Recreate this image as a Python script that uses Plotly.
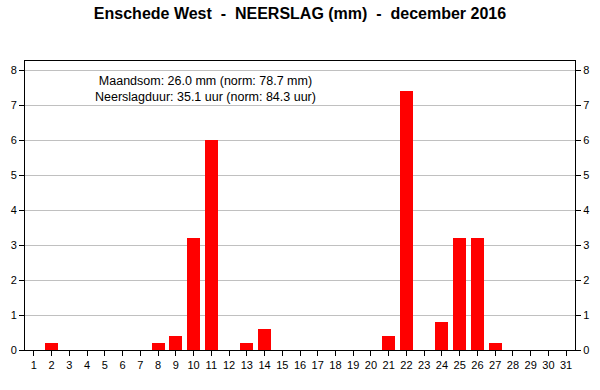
import plotly.graph_objects as go

days = list(range(1, 32))
rain = [0, 0.2, 0, 0, 0, 0, 0, 0.2, 0.4, 3.2, 6.0, 0, 0.2, 0.6, 0, 0, 0, 0, 0, 0,
        0.4, 7.4, 0, 0.8, 3.2, 3.2, 0.2, 0, 0, 0, 0]
yticks = list(range(0, 9))
title = "Enschede West  -  NEERSLAG (mm)  -  december 2016"
note = "Maandsom: 26.0 mm (norm: 78.7 mm)<br>Neerslagduur: 35.1 uur (norm: 84.3 uur)"

fig = go.Figure()
fig.add_trace(go.Bar(x=days, y=rain, width=0.73, marker=dict(color="#ff0000", line=dict(width=0)),
                     yaxis="y"))
fig.add_trace(go.Scatter(x=[None], y=[None], yaxis="y2", showlegend=False))

font = "Liberation Sans, Arial, sans-serif"
fig.update_layout(
    width=600, height=390,
    margin=dict(l=25, r=25, t=61, b=40, autoexpand=False),
    paper_bgcolor="white", plot_bgcolor="white",
    showlegend=False,
    bargap=0,
    title=dict(text="<b>" + title + "</b>", x=0.5, xanchor="center", y=1 - 13 / 390, yanchor="middle",
               font=dict(family=font, size=16, color="black")),
    font=dict(family=font, size=11, color="black"),
    xaxis=dict(range=[0.5, 31.5], tickmode="array", tickvals=days, ticktext=[str(d) for d in days],
               ticks="outside", ticklen=5, tickcolor="black", showgrid=False, automargin=False,
               showline=True, linecolor="black", linewidth=1, mirror=True, zeroline=False,
               tickfont=dict(size=11)),
    yaxis=dict(range=[0, 8.26], tickmode="array", tickvals=yticks, ticks="outside", ticklen=5,
               tickcolor="black", showgrid=True, gridcolor="#c0c0c0", gridwidth=1, automargin=False,
               showline=True, linecolor="black", linewidth=1, zeroline=False,
               tickfont=dict(size=11)),
    yaxis2=dict(range=[0, 8.26], tickmode="array", tickvals=yticks, ticks="outside", ticklen=5,
                tickcolor="black", overlaying="y", side="right", showgrid=False, automargin=False,
                showline=True, linecolor="black", linewidth=1, zeroline=False,
                tickfont=dict(size=11)),
    annotations=[dict(text=note, x=(205 - 25) / 550, xref="paper", y=1 - (89 - 61) / 289, yref="paper",
                      showarrow=False, xanchor="center", yanchor="middle",
                      font=dict(family=font, size=12.5, color="black"), align="center")],
)
fig.write_html("out.html", config={"displayModeBar": False},
               post_script="document.body.style.margin='0';document.body.style.overflow='hidden';")
